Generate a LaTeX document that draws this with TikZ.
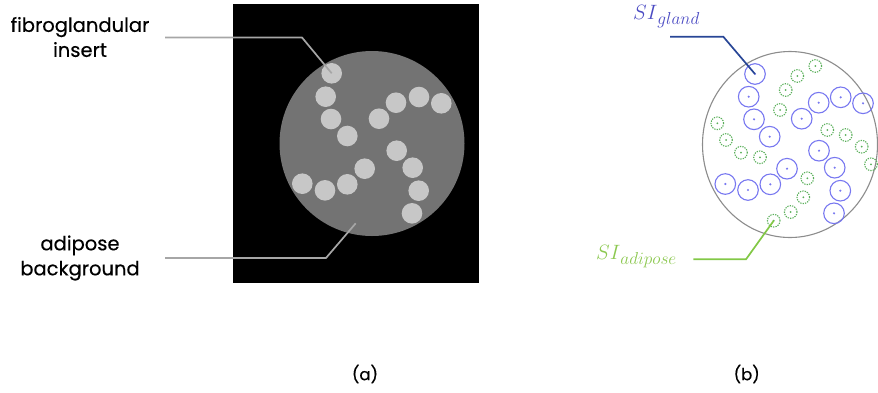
\documentclass[tikz,border=0pt]{standalone}
\usepackage{fontspec}
\setmainfont{Poppins}
\newfontfamily\lblfont{Poppins}[FakeBold=0.4]
\begin{document}
\begin{tikzpicture}[x=1pt,y=-1pt,
  lbl/.style={font=\lblfont\fontsize{19.5}{25}\selectfont, align=center, inner sep=0pt},
  captext/.style={font=\lblfont\fontsize{16.5}{16}\selectfont, inner sep=0pt},
  lead/.style={draw=black!35, line width=1.7pt},
  insert/.style={circle, fill=black!22, minimum size=20.6pt, inner sep=0pt},
  gland/.style={circle, draw={rgb,255:red,120;green,120;blue,240}, line width=1.1pt, minimum size=20.6pt, inner sep=0pt},
  adip/.style={circle, draw={rgb,255:red,90;green,175;blue,90}, dash pattern=on 1.3pt off 1.1pt, line width=1.1pt, minimum size=12.6pt, inner sep=0pt},
]
\useasboundingbox (0,0) rectangle (878,392);
\definecolor{glandblue}{RGB}{120,120,240}
\definecolor{adipgreen}{RGB}{90,175,90}
\definecolor{leadblue}{RGB}{40,70,150}
\definecolor{leadgreen}{RGB}{130,200,70}
\definecolor{sigland}{RGB}{75,75,195}
\definecolor{siadip}{RGB}{140,200,80}

% ---------- panel (a)
\fill[black] (233,4) rectangle (479,283);
\node[circle, fill=black!55, minimum size=185pt, inner sep=0pt] (ph) at (372,143.5) {};
\foreach \i/\x/\y in {1/331.7/73.3, 2/325.7/96.7, 3/331/119, 4/347.3/136,
  5/379/118.7, 6/396/102.7, 7/419/97, 8/441.3/103.3,
  9/396.7/150.7, 10/412.7/167.7, 11/418.7/190.7, 12/412/213.3,
  13/364.7/168.7, 14/347.3/184.3, 15/325/190.3, 16/302.3/183.7}
  \node[insert] (a\i) at (\x,\y) {};

\node[lbl] (fib) at (80,37) {fibroglandular\\insert};
\node[lbl] (adi) at (80,258) {adipose\\background};
\coordinate (fs) at (165,37.5);
\coordinate (fk) at (302,37.5);
\coordinate (as) at (165,258);
\coordinate (ak) at (326,258);
\coordinate (ap) at (355.7,223.3);
\draw[lead] (fs) -- (fk) -- (a1.center);
\draw[lead] (as) -- (ak) -- (ap);

\node[captext] (capa) at (365,374) {(a)};

% ---------- panel (b)
\draw[black!45, line width=1.1pt] (790,144.5) ellipse [x radius=87.5, y radius=93];
\foreach \i/\x/\y in {1/755/74, 2/748.7/96.7, 3/754/119.3, 4/769.7/136.7,
  5/801.7/118.7, 6/818.7/102.7, 7/840.7/97.3, 8/863/103.3,
  9/819/150.7, 10/834.7/167.7, 11/840.3/190.7, 12/834/213.3,
  13/787/168.7, 14/770.3/184.3, 15/748/190, 16/725.3/184}
  {\node[gland] (b\i) at (\x,\y) {};
   \fill[glandblue] (b\i.center) circle (1.2pt);}
\foreach \i/\x/\y in {1/815.3/66, 2/797.3/76, 3/785.7/90, 4/780/110,
  5/717.3/123.3, 6/726/140, 7/741/152.7, 8/760/157.3,
  9/827.3/130, 10/845.7/135, 11/861.7/146.7, 12/871/164.3,
  13/807.3/178.3, 14/803.3/197.3, 15/790.7/212, 16/773.7/220.7}
  {\node[adip] (g\i) at (\x,\y) {};
   \fill[adipgreen] (g\i.center) circle (1pt);}

\node[inner sep=0pt, text=sigland, anchor=west, font=\fontsize{22}{22}\selectfont] (sig) at (633,17) {$SI$\raisebox{-5pt}{\fontsize{16}{16}\selectfont$gland$}};
\node[inner sep=0pt, text=siadip, anchor=west, font=\fontsize{22}{22}\selectfont] (sia) at (596,257) {$SI$\raisebox{-5pt}{\fontsize{16}{16}\selectfont$adipose$}};
\coordinate (gs) at (670,36.7);
\coordinate (gk) at (723.3,36.7);
\draw[leadblue, line width=1.7pt] (gs) -- (gk) -- (b1.center);
\coordinate (as2) at (693.3,259.3);
\coordinate (ak2) at (746,259.3);
\draw[leadgreen, line width=1.7pt] (as2) -- (ak2) -- (g16.center);

\node[captext] (capb) at (746.7,374) {(b)};
\end{tikzpicture}
\end{document}
